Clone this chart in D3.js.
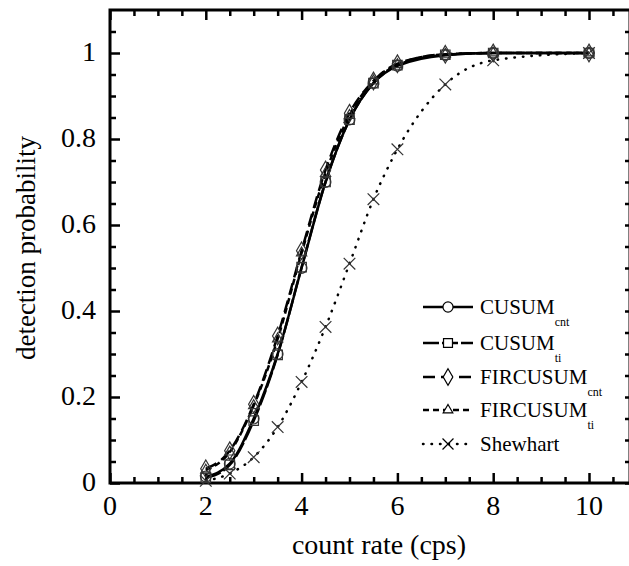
<!DOCTYPE html>
<html>
<head>
<meta charset="utf-8">
<script src="https://d3js.org/d3.v7.min.js"></script>
<style>
 body { margin: 0; background: #fff; }
 text { font-family: "Liberation Serif", "Times New Roman", serif; fill: #000; }
</style>
</head>
<body>
<script>
// count rates (cps) and detection probabilities
var rates = [2, 2.5, 3, 3.5, 4, 4.5, 5, 5.5, 6, 7, 8, 10];
var cusumCnt = [0.015, 0.045, 0.15, 0.30, 0.50, 0.70, 0.845, 0.93, 0.97, 0.995, 1.0, 1.0];
var cusumTi = [0.012, 0.042, 0.145, 0.298, 0.502, 0.70, 0.845, 0.93, 0.972, 0.996, 1.0, 1.0];
var firCnt = [0.033, 0.075, 0.183, 0.342, 0.54, 0.728, 0.86, 0.935, 0.975, 0.997, 1.0, 1.0];
var firTi = [0.030, 0.072, 0.18, 0.335, 0.535, 0.72, 0.855, 0.935, 0.973, 0.997, 1.0, 1.0];
var shewhart = [0.005, 0.022, 0.06, 0.13, 0.235, 0.363, 0.51, 0.66, 0.776, 0.927, 0.983, 1.0];
var xTicks = [0, 2, 4, 6, 8, 10];
var yTicks = [0, 0.2, 0.4, 0.6, 0.8, 1];

var series = [
  {name: "CUSUM", sub: "cnt", vals: cusumCnt, dash: null, sym: d3.symbolCircle},
  {name: "CUSUM", sub: "ti", vals: cusumTi, dash: "16,3", sym: d3.symbolSquare},
  {name: "FIRCUSUM", sub: "cnt", vals: firCnt, dash: "12,6", sym: d3.symbolDiamond},
  {name: "FIRCUSUM", sub: "ti", vals: firTi, dash: "6,4", sym: d3.symbolTriangle},
  {name: "Shewhart", sub: "", vals: shewhart, dash: "0.5,8", sym: d3.symbolTimes}
];

var W = 629, H = 566;
var margin = {top: 10, right: 0, bottom: 83, left: 110};
var w = 520, h = H - margin.top - margin.bottom;

var svg = d3.select("body").append("svg")
  .attr("width", W).attr("height", H);
var g = svg.append("g")
  .attr("transform", "translate(" + margin.left + "," + margin.top + ")");

var x = d3.scaleLinear().domain([0, 520 / 47.9]).range([0, w]);
var y = d3.scaleLinear().domain([0, 1.1]).range([h, 0]);

var minorX = d3.range(0, 11, 0.5), minorY = d3.range(0, 1.1, 0.05);

function tickSet(axisFn, scale, vals, size, transform) {
  g.append("g").attr("transform", transform || null)
    .call(axisFn(scale).tickValues(vals).tickSize(size).tickFormat(""))
    .call(function(s) {
      s.select(".domain").remove();
      s.selectAll("line").attr("stroke", "#000").attr("stroke-width", 2.5);
    });
}
// inward ticks on all four sides
var isMajX = function(v) { return Math.abs(v % 2) < 1e-6; };
var isMajY = function(v) { return Math.abs(Math.round(v * 100) % 20) < 1e-6; };
tickSet(d3.axisTop, x, minorX.filter(function(v){return !isMajX(v);}), 6, "translate(0," + h + ")");
tickSet(d3.axisTop, x, xTicks, 10, "translate(0," + h + ")");
tickSet(d3.axisBottom, x, minorX.filter(function(v){return !isMajX(v);}), 6);
tickSet(d3.axisBottom, x, xTicks, 10);
tickSet(d3.axisRight, y, minorY.filter(function(v){return !isMajY(v);}), 6);
tickSet(d3.axisRight, y, yTicks, 10);
tickSet(d3.axisLeft, y, minorY.filter(function(v){return !isMajY(v);}), 5, "translate(" + w + ",0)");
tickSet(d3.axisLeft, y, yTicks, 5, "translate(" + w + ",0)");

// frame
g.append("rect").attr("x", 0).attr("y", 0).attr("width", w).attr("height", h)
  .attr("fill", "none").attr("stroke", "#000").attr("stroke-width", 3);

// tick labels
g.append("g").selectAll("text").data(xTicks).join("text")
  .attr("x", function(d) { return x(d); }).attr("y", h + 32)
  .attr("text-anchor", "middle").style("font-size", "28px")
  .text(function(d) { return d; });
g.append("g").selectAll("text").data(yTicks).join("text")
  .attr("x", -14).attr("y", function(d) { return y(d) + 8; })
  .attr("text-anchor", "end").style("font-size", "28px")
  .text(function(d) { return d; });

// axis titles
svg.append("text").attr("x", 379).attr("y", 554)
  .attr("text-anchor", "middle").style("font-size", "28px")
  .text("count rate (cps)");
svg.append("text").attr("transform", "translate(35,248) rotate(-90)")
  .attr("text-anchor", "middle").style("font-size", "27px")
  .text("detection probability");

// curves
var line = d3.line()
  .x(function(d, i) { return x(rates[i]); })
  .y(function(d) { return y(d); })
  .curve(d3.curveMonotoneX);

series.forEach(function(s) {
  g.append("path").datum(s.vals)
    .attr("d", line).attr("fill", "none").attr("stroke", "#000")
    .attr("stroke-width", 2.5).attr("stroke-linecap", s.dash === "0.5,8" ? "round" : "butt")
    .attr("stroke-dasharray", s.dash);
});
series.forEach(function(s) {
  var sym = d3.symbol().type(s.sym).size(s.sym === d3.symbolTriangle ? 45 : 90);
  g.append("g").selectAll("path").data(s.vals).join("path")
    .attr("transform", function(d, i) { return "translate(" + x(rates[i]) + "," + y(d) + ")"; })
    .attr("d", sym).attr("fill", "none").attr("stroke", "#333").attr("stroke-width", 1.2);
});

// legend
var legY = [307, 343, 377, 410, 444];
var leg = svg.append("g");
series.forEach(function(s, i) {
  var row = leg.append("g").attr("transform", "translate(0," + legY[i] + ")");
  row.append("line").attr("x1", 423).attr("x2", 473)
    .attr("stroke", "#000").attr("stroke-width", 2.5)
    .attr("stroke-dasharray", s.dash)
    .attr("stroke-linecap", s.dash === "0.5,8" ? "round" : "butt");
  row.append("path").attr("transform", "translate(448,0)")
    .attr("d", d3.symbol().type(s.sym).size(s.sym === d3.symbolTriangle ? 40 : 80))
    .attr("fill", "#fff").attr("stroke", "#000").attr("stroke-width", 1.2);
  var t = row.append("text").attr("x", 480).attr("y", 7).style("font-size", "21px");
  t.append("tspan").text(s.name);
  if (s.sub) t.append("tspan").attr("dy", 12).style("font-size", "12px").text(s.sub);
});
</script>
</body>
</html>
